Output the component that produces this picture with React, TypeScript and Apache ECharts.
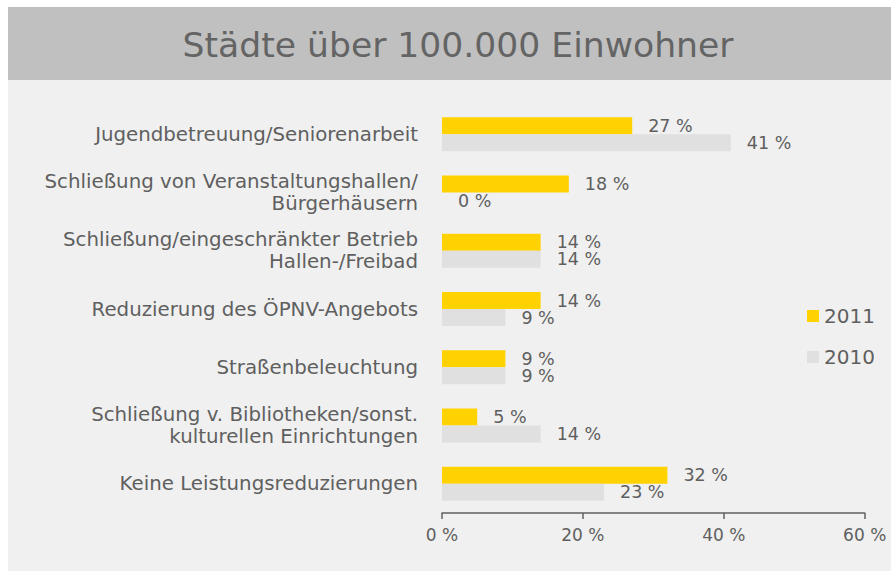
import React, { useEffect, useRef } from "react";
import * as echarts from "echarts";

const categories = [
  "Jugendbetreuung/Seniorenarbeit",
  "Schließung von Veranstaltungshallen/\nBürgerhäusern",
  "Schließung/eingeschränkter Betrieb\nHallen-/Freibad",
  "Reduzierung des ÖPNV-Angebots",
  "Straßenbeleuchtung",
  "Schließung v. Bibliotheken/sonst.\nkulturellen Einrichtungen",
  "Keine Leistungsreduzierungen",
];
const values2011 = [27, 18, 14, 14, 9, 5, 32];
const values2010 = [41, 0, 14, 9, 9, 14, 23];
const xTicks = [0, 20, 40, 60];

const FONT = "'DejaVu Sans', sans-serif";
const TEXT = "#5f5f5f";

export default function App() {
  const ref = useRef<HTMLDivElement>(null);
  useEffect(() => {
    if (!ref.current) return;
    const chart = echarts.init(ref.current, null, { renderer: "svg" });
    chart.setOption({
      animation: false,
      backgroundColor: "#f0f0f0",
      textStyle: { fontFamily: FONT },
      graphic: [
        {
          type: "rect",
          z: -1,
          shape: { x: 0, y: 0, width: 883, height: 73 },
          style: { fill: "#c0c0c0" },
          silent: true,
        },
        {
          type: "text",
          x: 450,
          y: 38,
          silent: true,
          style: {
            text: "Städte über 100.000 Einwohner",
            fontFamily: FONT,
            fontSize: 34.6,
            fill: "#646464",
            align: "center",
            verticalAlign: "middle",
          },
        },
      ],
      legend: {
        orient: "vertical",
        left: 794,
        top: 294,
        itemWidth: 12,
        itemHeight: 12,
        itemGap: 21,
        icon: "rect",
        data: ["2011", "2010"],
        textStyle: { fontFamily: FONT, fontSize: 20, color: TEXT, lineHeight: 20 },
      },
      grid: { left: 434, right: 26.3, top: 98, bottom: 58, containLabel: false },
      xAxis: {
        type: "value",
        min: 0,
        max: 60,
        interval: 20,
        axisLine: { show: true, lineStyle: { color: "#606060", width: 1.5 } },
        axisTick: { show: true, length: 6, lineStyle: { color: "#606060", width: 1.5 } },
        splitLine: { show: false },
        axisLabel: {
          margin: 13,
          fontFamily: FONT,
          fontSize: 17,
          color: TEXT,
          formatter: (v: number) => (xTicks.includes(v) ? `${v} %` : ""),
        },
      },
      yAxis: {
        type: "category",
        inverse: true,
        data: categories,
        axisLine: { show: false },
        axisTick: { show: false },
        axisLabel: {
          margin: 24,
          fontFamily: FONT,
          fontSize: 19.8,
          color: TEXT,
          lineHeight: 22,
          align: "right",
        },
      },
      series: [
        {
          name: "2011",
          type: "bar",
          data: values2011,
          barWidth: 17,
          barGap: "0%",
          itemStyle: { color: "#ffd200" },
          label: {
            show: true,
            position: "right",
            distance: 16,
            fontFamily: FONT,
            fontSize: 17.5,
            color: TEXT,
            formatter: "{c} %",
          },
        },
        {
          name: "2010",
          type: "bar",
          data: values2010,
          barWidth: 17,
          barGap: "0%",
          itemStyle: { color: "#e0e0e0" },
          label: {
            show: true,
            position: "right",
            distance: 16,
            fontFamily: FONT,
            fontSize: 17.5,
            color: TEXT,
            formatter: "{c} %",
          },
        },
      ],
    });
    return () => chart.dispose();
  }, []);
  return (
    <div
      ref={ref}
      style={{ position: "absolute", left: 8, top: 7, width: 883, height: 564 }}
    />
  );
}
